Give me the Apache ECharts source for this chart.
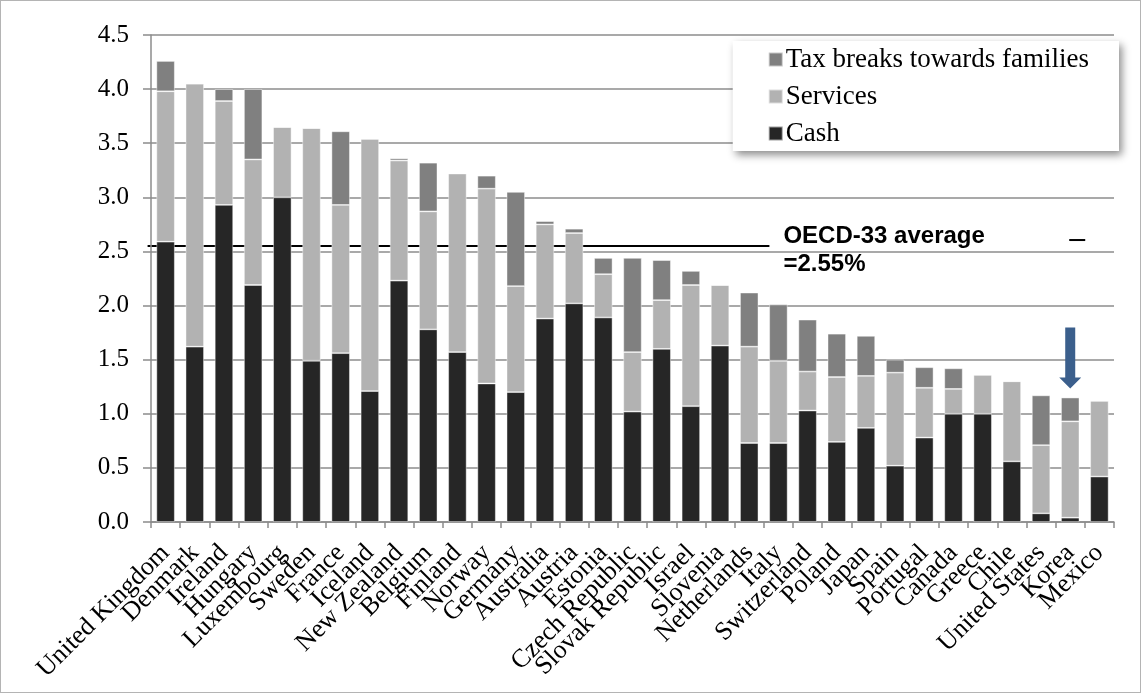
<!DOCTYPE html>
<html>
<head>
<meta charset="utf-8">
<title>Family benefits spending</title>
<script src="https://cdn.jsdelivr.net/npm/echarts@6/dist/echarts.min.js"></script>
<style>
  html, body { margin: 0; padding: 0; background: #fff; }
  #main { width: 1139px; height: 691px; border: 1px solid #b4b4b4; }
</style>
</head>
<body>
<div id="main"></div>
<script>
// countries, ordered as in the chart
var countries = ['United Kingdom', 'Denmark', 'Ireland', 'Hungary', 'Luxembourg', 'Sweden', 'France',
    'Iceland', 'New Zealand', 'Belgium', 'Finland', 'Norway', 'Germany', 'Australia', 'Austria',
    'Estonia', 'Czech Republic', 'Slovak Republic', 'Israel', 'Slovenia', 'Netherlands', 'Italy',
    'Switzerland', 'Poland', 'Japan', 'Spain', 'Portugal', 'Canada', 'Greece', 'Chile',
    'United States', 'Korea', 'Mexico'];
// % of GDP, one segment each
var cash = [2.59, 1.62, 2.93, 2.19, 3.00, 1.49, 1.56, 1.21, 2.23, 1.78, 1.57, 1.28, 1.20, 1.88, 2.02,
    1.89, 1.02, 1.60, 1.07, 1.63, 0.73, 0.73, 1.03, 0.74, 0.87, 0.52, 0.78, 1.00, 1.00, 0.56,
    0.08, 0.04, 0.42];
var services = [1.39, 2.43, 0.96, 1.16, 0.65, 2.15, 1.37, 2.33, 1.11, 1.09, 1.65, 1.80, 0.98, 0.87, 0.65,
    0.40, 0.55, 0.45, 1.12, 0.56, 0.89, 0.76, 0.36, 0.60, 0.48, 0.86, 0.46, 0.23, 0.36, 0.74,
    0.63, 0.89, 0.70];
var taxBreaks = [0.28, 0, 0.11, 0.65, 0, 0, 0.68, 0, 0.02, 0.45, 0, 0.12, 0.87, 0.03, 0.04,
    0.15, 0.87, 0.37, 0.13, 0, 0.50, 0.52, 0.48, 0.40, 0.37, 0.12, 0.19, 0.19, 0, 0,
    0.46, 0.22, 0];
var oecdAverage = 2.55;
var highlight = 'Korea';
var yTicks = [0, 0.5, 1.0, 1.5, 2.0, 2.5, 3.0, 3.5, 4.0, 4.5];

var serif = '"Liberation Serif", "Times New Roman", serif';
var myChart = echarts.init(document.getElementById('main'));

function barSeries(name, data, color) {
    return {
        name: name,
        type: 'bar',
        stack: 'total',
        data: data,
        barCategoryGap: '37%',
        itemStyle: { color: color, borderColor: 'rgba(255,255,255,0.55)', borderWidth: 0.8 },
        emphasis: { disabled: true }
    };
}

var option = {
    animation: false,
    grid: { left: 150, right: 26, top: 34, bottom: 170 },
    legend: {
        orient: 'vertical',
        right: 21,
        top: 40,
        data: ['Tax breaks towards families', 'Services', 'Cash'],
        itemWidth: 14,
        itemHeight: 14,
        itemGap: 10,
        icon: 'rect',
        padding: [5, 30, 4, 35],
        backgroundColor: '#fff',
        shadowColor: 'rgba(0,0,0,0.45)',
        shadowBlur: 8,
        shadowOffsetX: 3,
        shadowOffsetY: 4,
        textStyle: { fontFamily: serif, fontSize: 27, color: '#000', padding: [0, 0, 0, -2] }
    },
    xAxis: {
        type: 'category',
        data: countries,
        axisLine: { lineStyle: { color: '#8c8c8c', width: 1.5 } },
        axisTick: { show: true, length: 6, lineStyle: { color: '#8c8c8c', width: 1.5 } },
        axisLabel: {
            rotate: 45,
            interval: 0,
            margin: 27,
            fontFamily: serif,
            fontSize: 26,
            color: '#000'
        }
    },
    yAxis: {
        type: 'value',
        min: 0,
        max: 4.5,
        interval: 0.5,
        axisLine: { show: true, lineStyle: { color: '#8c8c8c', width: 1.5 } },
        axisTick: { show: true, length: 8, lineStyle: { color: '#8c8c8c', width: 1.5 } },
        splitLine: { lineStyle: { color: '#8c8c8c', width: 1.5 } },
        axisLabel: {
            margin: 22,
            fontFamily: serif,
            fontSize: 25,
            color: '#000',
            formatter: function (v) { return yTicks.indexOf(v) >= 0 ? v.toFixed(1) : ''; }
        }
    },
    series: [
        barSeries('Cash', cash, '#262626'),
        barSeries('Services', services, '#b2b2b2'),
        barSeries('Tax breaks towards families', taxBreaks, '#808080')
    ]
};
option && myChart.setOption(option);

// average line, label and arrow placed from the axes
var avgY = myChart.convertToPixel({ yAxisIndex: 0 }, oecdAverage);
var x0 = myChart.convertToPixel({ xAxisIndex: 0 }, countries[0]) - 18;
var xEnd = myChart.convertToPixel({ xAxisIndex: 0 }, 'Italy') - 9;
var ki = countries.indexOf(highlight);
var kx = myChart.convertToPixel({ xAxisIndex: 0 }, highlight);
var kTop = myChart.convertToPixel({ yAxisIndex: 0 }, cash[ki] + services[ki] + taxBreaks[ki]);
var tip = kTop - 9;
var shaftTop = tip - 61;
var headTop = tip - 11;

myChart.setOption({
    graphic: [
        {
            type: 'line',
            shape: { x1: x0, y1: avgY, x2: xEnd, y2: avgY },
            style: { stroke: '#000', lineWidth: 2 }
        },
        {
            type: 'line',
            shape: { x1: kx - 1, y1: avgY - 6, x2: kx + 15, y2: avgY - 6 },
            style: { stroke: '#000', lineWidth: 2 }
        },
        {
            type: 'text',
            left: xEnd + 14,
            top: avgY - 24,
            style: {
                text: 'OECD-33 average\n=2.55%',
                font: 'bold 24px "Liberation Sans", Arial, sans-serif',
                fill: '#000',
                lineHeight: 28
            }
        },
        {
            type: 'polygon',
            shape: {
                points: [
                    [kx - 5, shaftTop], [kx + 5, shaftTop], [kx + 5, headTop], [kx + 11, headTop],
                    [kx, tip], [kx - 11, headTop], [kx - 5, headTop]
                ]
            },
            style: { fill: '#3b5f8c' }
        }
    ]
});
</script>
</body>
</html>
